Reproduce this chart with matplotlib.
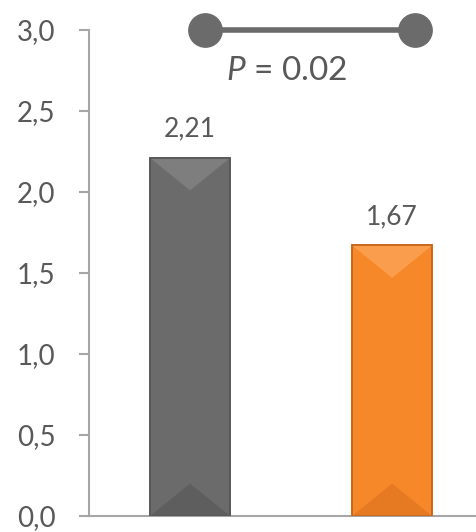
import matplotlib.pyplot as plt
from matplotlib.patches import Polygon

groups = ["A", "B"]
values = [2.21, 1.67]
value_labels = ["2,21", "1,67"]
p_text = "= 0.02"
yticks = [0.0, 0.5, 1.0, 1.5, 2.0, 2.5, 3.0]
ytick_labels = ["0,0", "0,5", "1,0", "1,5", "2,0", "2,5", "3,0"]

face = ["#6b6b6b", "#f7882a"]
edge = ["#575757", "#c9661a"]
light = ["#7e7e7e", "#fa9d4c"]
dark = ["#5e5e5e", "#e57a22"]

plt.rcParams['font.family'] = ['Lato', 'DejaVu Sans']
plt.rcParams['mathtext.fontset'] = 'custom'
plt.rcParams['mathtext.it'] = 'Lato:italic'

fig = plt.figure(figsize=(4.77, 5.32), dpi=100)
ax = fig.add_axes([89 / 477, 16 / 532, 388 / 477, 486 / 532])

x = list(range(len(groups)))
w = 0.396
bars = ax.bar(x, values, width=w, color=face, edgecolor=edge, linewidth=1.2, zorder=2)

# bevel highlights derived from each bar
bev = 0.2
for i, b in enumerate(bars):
    x0, x1 = b.get_x(), b.get_x() + b.get_width()
    h = b.get_height()
    xm = (x0 + x1) / 2
    ax.add_patch(Polygon([(x0, h), (x1, h), (xm, h - bev)], closed=True,
                         facecolor=light[i], edgecolor="none", zorder=3))
    ax.add_patch(Polygon([(x0, 0), (x1, 0), (xm, bev)], closed=True,
                         facecolor=dark[i], edgecolor="none", zorder=3))
    ax.add_patch(Polygon([(x0, 0), (x0, h), (x1, h), (x1, 0)], closed=True,
                         facecolor="none", edgecolor=edge[i], linewidth=1.2, zorder=4))
    ax.text(xm, h + 0.1, value_labels[i], ha="center", va="bottom",
            fontsize=19, color="#595959")

# significance bracket
ax.plot([0.074, 1.114], [3.0, 3.0], color="#6b6b6b", lw=4, marker="o",
        markersize=24, clip_on=False, zorder=5, solid_capstyle="butt")
ax.text(0.48, 2.75, r"$P$ " + p_text, ha="center", va="center",
        fontsize=24, color="#595959")

ax.set_xlim(-0.5, 1.42)
ax.set_ylim(0, 3.0)
ax.set_yticks(yticks)
ax.set_yticklabels(ytick_labels)
ax.set_xticks([])

for s in ["top", "right"]:
    ax.spines[s].set_visible(False)
for s in ["left", "bottom"]:
    ax.spines[s].set_color("#a6a6a6")
    ax.spines[s].set_linewidth(1.5)

ax.tick_params(axis="y", direction="out", length=7, width=1.5, color="#a6a6a6",
               labelsize=20, labelcolor="#595959", pad=17)

fig.savefig("out.png", dpi=100)
